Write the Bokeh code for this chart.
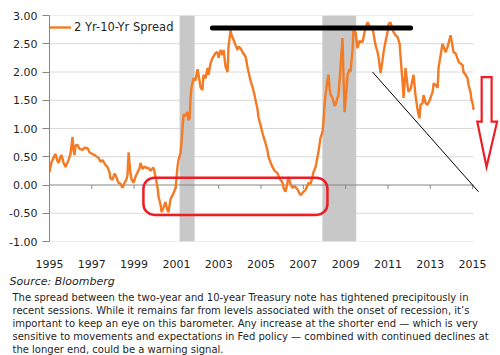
from bokeh.plotting import figure
from bokeh.models import (Range1d, FixedTicker, NumeralTickFormatter, Legend, LegendItem,
                          BoxAnnotation, ColumnDataSource, Title)
from bokeh.embed import file_html
from bokeh.resources import INLINE

# ---------------- data ----------------
years = [
    1995.00, 1995.09, 1995.19, 1995.28, 1995.38, 1995.43, 1995.52, 1995.57, 1995.66, 1995.76,
    1995.85, 1995.90, 1995.99, 1996.09, 1996.13, 1996.18, 1996.23, 1996.32, 1996.42, 1996.56,
    1996.65, 1996.80, 1996.89, 1997.03, 1997.17, 1997.32, 1997.41, 1997.51, 1997.65, 1997.74,
    1997.84, 1997.88, 1997.98, 1998.07, 1998.12, 1998.22, 1998.26, 1998.36, 1998.45, 1998.55,
    1998.64, 1998.69, 1998.74, 1998.78, 1998.83, 1998.88, 1998.97, 1999.07, 1999.16, 1999.26,
    1999.30, 1999.40, 1999.49, 1999.59, 1999.68, 1999.78, 1999.87, 1999.92, 2000.01, 2000.11,
    2000.15, 2000.25, 2000.30, 2000.39, 2000.48, 2000.58, 2000.63, 2000.72, 2000.82, 2000.91,
    2000.96, 2001.00, 2001.05, 2001.10, 2001.19, 2001.24, 2001.29, 2001.34, 2001.43, 2001.52,
    2001.57, 2001.62, 2001.67, 2001.71, 2001.81, 2001.90, 2002.00, 2002.09, 2002.14, 2002.23,
    2002.28, 2002.38, 2002.47, 2002.52, 2002.61, 2002.71, 2002.85, 2002.94, 2002.99, 2003.09,
    2003.18, 2003.23, 2003.32, 2003.42, 2003.46, 2003.56, 2003.61, 2003.70, 2003.79, 2003.89,
    2003.94, 2004.03, 2004.13, 2004.27, 2004.36, 2004.41, 2004.50, 2004.60, 2004.69, 2004.74,
    2004.83, 2004.88, 2004.98, 2005.07, 2005.12, 2005.21, 2005.31, 2005.35, 2005.45, 2005.54,
    2005.64, 2005.78, 2005.87, 2006.02, 2006.06, 2006.16, 2006.25, 2006.30, 2006.39, 2006.49,
    2006.58, 2006.73, 2006.82, 2006.87, 2006.96, 2007.06, 2007.10, 2007.20, 2007.25, 2007.34,
    2007.43, 2007.48, 2007.58, 2007.67, 2007.72, 2007.81, 2007.91, 2007.95, 2008.00, 2008.05,
    2008.14, 2008.19, 2008.24, 2008.29, 2008.38, 2008.48, 2008.52, 2008.62, 2008.66, 2008.76,
    2008.85, 2008.90, 2008.95, 2009.04, 2009.09, 2009.18, 2009.23, 2009.33, 2009.37, 2009.47,
    2009.56, 2009.66, 2009.80, 2009.89, 2009.94, 2010.04, 2010.13, 2010.27, 2010.41, 2010.51,
    2010.56, 2010.65, 2010.74, 2010.79, 2010.89, 2010.98, 2011.03, 2011.12, 2011.22, 2011.26,
    2011.36, 2011.45, 2011.55, 2011.60, 2011.69, 2011.74, 2011.83, 2011.93, 2011.97, 2012.07,
    2012.21, 2012.30, 2012.40, 2012.45, 2012.49, 2012.54, 2012.64, 2012.68, 2012.78, 2012.87,
    2012.97, 2013.11, 2013.16, 2013.25, 2013.35, 2013.39, 2013.49, 2013.58, 2013.63, 2013.72,
    2013.82, 2013.96, 2014.01, 2014.10, 2014.20, 2014.34, 2014.43, 2014.53, 2014.57, 2014.67,
    2014.76, 2014.81, 2014.91, 2014.95, 2015.00, 2015.05,
]
spread = [
    0.23, 0.40, 0.48, 0.55, 0.42, 0.39, 0.50, 0.53, 0.40, 0.32,
    0.40, 0.44, 0.55, 0.85, 0.62, 0.53, 0.70, 0.71, 0.64, 0.62,
    0.66, 0.65, 0.58, 0.55, 0.52, 0.48, 0.41, 0.44, 0.35, 0.32,
    0.22, 0.12, 0.09, 0.20, 0.18, 0.08, 0.04, 0.02, -0.05, 0.04,
    0.10, 0.18, 0.58, 0.40, 0.21, 0.10, 0.04, 0.15, 0.22, 0.30,
    0.39, 0.28, 0.33, 0.30, 0.30, 0.25, 0.30, 0.30, 0.15, -0.05,
    -0.20, -0.35, -0.48, -0.40, -0.30, -0.45, -0.48, -0.25, -0.18, -0.10,
    -0.04, 0.10, 0.32, 0.45, 0.56, 0.75, 1.03, 1.25, 1.22, 1.29,
    1.15, 1.18, 1.55, 1.72, 1.89, 1.85, 2.05, 1.85, 1.73, 1.68,
    1.95, 1.89, 2.07, 1.95, 2.15, 2.25, 2.34, 2.35, 2.25, 2.39,
    2.30, 2.39, 2.10, 2.00, 2.44, 2.74, 2.65, 2.57, 2.48, 2.39,
    2.45, 2.42, 2.35, 2.27, 2.09, 2.00, 1.85, 1.73, 1.60, 1.50,
    1.35, 1.20, 1.05, 0.92, 0.85, 0.74, 0.60, 0.50, 0.40, 0.32,
    0.25, 0.21, 0.12, 0.04, -0.05, -0.12, 0.05, 0.14, 0.02, -0.05,
    -0.02, -0.08, -0.15, -0.18, -0.14, -0.10, -0.09, 0.00, 0.04, 0.02,
    0.14, 0.23, 0.32, 0.50, 0.60, 0.83, 0.95, 1.11, 1.40, 1.59,
    1.85, 1.95, 1.70, 1.60, 1.54, 1.40, 1.42, 1.55, 1.59, 2.10,
    2.60, 1.90, 1.29, 1.70, 1.95, 2.05, 2.00, 2.42, 2.74, 2.70,
    2.42, 2.55, 2.53, 2.70, 2.78, 2.88, 2.80, 2.78, 2.48, 2.35,
    2.25, 1.98, 2.20, 2.35, 2.55, 2.71, 2.85, 2.88, 2.75, 2.71,
    2.65, 2.62, 2.50, 2.25, 1.82, 1.54, 2.07, 1.75, 1.65, 1.70,
    1.95, 1.59, 1.33, 1.24, 1.18, 1.42, 1.45, 1.59, 1.45, 1.42,
    1.50, 1.65, 1.80, 1.77, 1.72, 2.07, 2.30, 2.50, 2.45, 2.35,
    2.45, 2.65, 2.55, 2.35, 2.33, 2.18, 2.15, 2.12, 2.00, 1.95,
    1.89, 1.77, 1.63, 1.50, 1.45, 1.33,
]

recession_start = [2001.15, 2007.90]
recession_end = [2001.86, 2009.50]

x_ticks = [1995, 1997, 1999, 2001, 2003, 2005, 2007, 2009, 2011, 2013, 2015]
x_tick_labels = ["1995", "1997", "1999", "2001", "2003", "2005", "2007", "2009", "2011", "2013", "2015"]
y_ticks = [-1.0, -0.5, 0.0, 0.5, 1.0, 1.5, 2.0, 2.5, 3.0]

series_label = "2 Yr-10-Yr Spread"
source_text = "Source: Bloomberg"
body_lines = [
    "The spread between the two-year and 10-year Treasury note has tightened precipitously in",
    "recent sessions. While it remains far from levels associated with the onset of recession, it\u2019s",
    "important to keep an eye on this barometer. Any increase at the shorter end \u2014 which is very",
    "sensitive to movements and expectations in Fed policy \u2014 combined with continued declines at",
    "the longer end, could be a warning signal.",
]

# annotations (data units)
X_START, X_GRID_END, X_END = 1995.0, 2015.05, 2016.32
Y_MIN, Y_MAX = -1.0, 3.0
top_bar_x = [2002.70, 2012.07]
top_bar_y = [2.78, 2.78]
trend_x = [2010.27, 2015.28]
trend_y = [2.00, -0.12]
box_left, box_right, box_top, box_bottom = 1999.44, 2008.14, 0.13, -0.53
arrow_x = [2015.43, 2015.90, 2015.90, 2016.16, 2015.66, 2015.22, 2015.43]
arrow_y = [1.91, 1.91, 1.12, 1.12, 0.32, 1.12, 1.12]

FONT = "DejaVu Sans"
ORANGE = "#F47A24"
RED = "#EE1C25"
AXIS_GREY = "#868686"
GRID_GREY = "#D9D9D9"
BAND_GREY = "#C8C8C8"
TEXT = "#1F1F1F"

p = figure(width=500, height=355, output_backend="svg", toolbar_location=None,
           x_range=Range1d(X_START, X_END), y_range=Range1d(Y_MIN, Y_MAX),
           min_border_left=49, min_border_right=0, min_border_top=15, min_border_bottom=114)
p.outline_line_color = None
p.xgrid.visible = False
p.ygrid.visible = False
p.background_fill_color = "white"
p.border_fill_color = "white"

# y axis
ya = p.yaxis[0]
ya.ticker = FixedTicker(ticks=y_ticks)
ya.formatter = NumeralTickFormatter(format="0.00")
ya.axis_line_color = AXIS_GREY
ya.major_tick_line_color = AXIS_GREY
ya.major_tick_out = 7
ya.major_tick_in = 0
ya.minor_tick_line_color = None
ya.major_label_standoff = 5
ya.major_label_text_font = FONT
ya.major_label_text_font_size = "11px"
ya.major_label_text_color = TEXT

# x axis (labels only; the axis line is drawn at zero)
xa = p.xaxis[0]
xa.ticker = FixedTicker(ticks=x_ticks)
xa.major_label_overrides = {t: s for t, s in zip(x_ticks, x_tick_labels)}
xa.axis_line_color = None
xa.major_tick_line_color = None
xa.minor_tick_line_color = None
xa.major_label_standoff = 12
xa.major_label_text_font = FONT
xa.major_label_text_font_size = "11px"
xa.major_label_text_color = TEXT

# gridlines (not at zero)
grid_vals = [v for v in y_ticks if v != 0.0]
p.segment(x0=[X_START] * len(grid_vals), x1=[X_GRID_END] * len(grid_vals),
          y0=grid_vals, y1=grid_vals, line_color=GRID_GREY, line_width=1)

# recession bands
p.quad(left=recession_start, right=recession_end, bottom=[Y_MIN] * 2, top=[Y_MAX] * 2,
       fill_color=BAND_GREY, line_color=None)

# zero axis with ticks
p.segment(x0=[X_START], x1=[X_GRID_END], y0=[0], y1=[0], line_color=AXIS_GREY, line_width=1)
p.segment(x0=x_ticks[1:], x1=x_ticks[1:], y0=[0] * (len(x_ticks) - 1), y1=[-0.07] * (len(x_ticks) - 1),
          line_color=AXIS_GREY, line_width=1)

# series
src = ColumnDataSource(dict(x=years, y=spread))
r = p.line("x", "y", source=src, line_color=ORANGE, line_width=2.4)

# annotations
p.line(top_bar_x, top_bar_y, line_color="black", line_width=5, line_cap="round")
p.line(trend_x, trend_y, line_color="black", line_width=1)
p.add_layout(BoxAnnotation(left=box_left, right=box_right, top=box_top, bottom=box_bottom,
                           fill_color=None, fill_alpha=0, line_color=RED, line_alpha=1.0,
                           line_width=2.5, border_radius=11))
p.patch(arrow_x, arrow_y, fill_color="white", line_color=RED, line_width=2.2, line_join="miter")

# legend
legend = Legend(items=[LegendItem(label=series_label, renderers=[r])], location="top_left",
                margin=0, padding=4, border_line_color=None, background_fill_alpha=0,
                label_text_font=FONT, label_text_font_size="11.5px", label_text_color=TEXT,
                glyph_width=22, glyph_height=24, label_height=24, label_standoff=3)
p.add_layout(legend)

# source & commentary below the chart (stacked titles under the x axis)
p.add_layout(Title(text=source_text, align="left", offset=-40, standoff=4,
                   text_font=FONT, text_font_style="italic", text_font_size="11px",
                   text_color=TEXT), "below")
body_standoffs = [0, -0.5, -0.5, -0.5, -0.5]
for line, so in zip(body_lines, body_standoffs):
    p.add_layout(Title(text=line, align="left", offset=-37, standoff=so,
                       text_font=FONT, text_font_style="normal", text_font_size="10px",
                       text_color=TEXT), "below")

open("out.html", "w").write(file_html(p, INLINE))
